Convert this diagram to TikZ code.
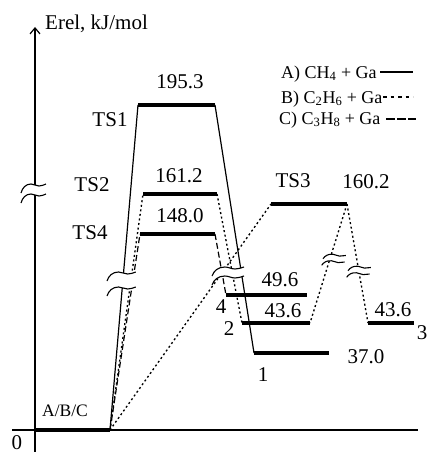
\documentclass[tikz,border=0pt]{standalone}
\usepackage{fontspec}
\setmainfont{Liberation Serif}
\usetikzlibrary{arrows.meta}
\tikzset{
  lvl/.style={line width=3.6pt},
  conn/.style={line width=1.2pt},
  solidc/.style={conn},
  dotc/.style={conn, line width=1.35pt, dash pattern=on 2pt off 2.6pt},
  dashc/.style={conn, dash pattern=on 6pt off 3pt},
  axis/.style={line width=1.2pt},
  lbl/.style={font=\fontsize{21}{25}\selectfont, inner sep=0pt, anchor=base},
  smlbl/.style={font=\fontsize{17.5}{21}\selectfont, inner sep=0pt, anchor=base},
  leg/.style={font=\fontsize{18}{22}\selectfont, inner sep=0pt, anchor=base west},
}
\newcommand\brkmark[4][]{%
  \begin{scope}[shift={(#2,#3)},#1]
    \fill[white] (0,8) to[out=75,in=180] (10,-1) to[out=0,in=180] (18,1) to[out=0,in=200] (25,-1)
      -- (25,{#4-1}) to[out=200,in=0] (18,{#4+1}) to[out=180,in=0] (10,{#4-1}) to[out=180,in=75] (0,{#4+8}) -- cycle;
    \draw[line width=1.1pt] (0,8) to[out=75,in=180] (10,-1) to[out=0,in=180] (18,1) to[out=0,in=200] (25,-1);
    \draw[line width=1.1pt] (0,{#4+8}) to[out=75,in=180] (10,{#4-1}) to[out=0,in=180] (18,{#4+1}) to[out=0,in=200] (25,{#4-1});
  \end{scope}}
\begin{document}
\begin{tikzpicture}[x=1pt,y=-1pt]
\useasboundingbox (0,0) rectangle (428,452);
% axes
\coordinate (ybot) at (35,456);
\coordinate (ytop) at (35,27);
\coordinate (xl) at (12,430);
\coordinate (xr) at (418,430);
\draw[axis] (xl) -- (xr);
\draw[axis, -{Straight Barb[length=6pt,width=10pt]}] (ybot) -- (ytop);
% level end points
\coordinate (abcL) at (35,430);   \coordinate (abcR) at (110,430);
\coordinate (ts1L) at (138,105);  \coordinate (ts1R) at (215,105);
\coordinate (ts2L) at (143,194);  \coordinate (ts2R) at (217,194);
\coordinate (ts4L) at (140,234);  \coordinate (ts4R) at (215,234);
\coordinate (ts3L) at (271,204);  \coordinate (ts3R) at (347,204);
\coordinate (l4L) at (226,295);   \coordinate (l4R) at (307,295);
\coordinate (l2L) at (242,323);   \coordinate (l2R) at (310,323);
\coordinate (l3L) at (368,323);   \coordinate (l3R) at (414,323);
\coordinate (l1L) at (254,353);   \coordinate (l1R) at (329,353);
% connectors
\draw[solidc] (abcR) -- (ts1L);
\draw[solidc] (ts1R) -- (l1L);
\draw[dashc] (abcR) -- (ts4L);
\draw[dashc] (ts4R) -- (l4L);
\draw[dotc] (abcR) -- (ts2L);
\draw[dotc] (ts2R) -- (l2L);
\draw[dotc] (abcR) -- (ts3L);
\draw[dotc] (ts3R) -- (l2R);
\draw[dotc] (ts3R) -- (l3L);
% breaks
\brkmark{21}{185}{10}
\brkmark[xscale=1.15]{107}{273}{15}
\brkmark[xscale=1.28]{212}{268}{9}
\brkmark[xscale=0.88,yscale=0.6,rotate=-8]{324}{254}{11}
\brkmark[xscale=0.88,yscale=0.6,rotate=-8]{349}{266}{11}
% levels
\draw[lvl] (abcL) -- (abcR);
\draw[lvl] (ts1L) -- (ts1R);
\draw[lvl] (ts2L) -- (ts2R);
\draw[lvl] (ts4L) -- (ts4R);
\draw[lvl] (ts3L) -- (ts3R);
\draw[lvl] (l4L) -- (l4R);
\draw[lvl] (l2L) -- (l2R);
\draw[lvl] (l3L) -- (l3R);
\draw[lvl] (l1L) -- (l1R);
% labels
\node[lbl, anchor=base west] (ylab) at (45,30) {Erel, kJ/mol};
\node[lbl] (zero) at (17,449) {0};
\node[smlbl] (abclab) at (65,416) {A/B/C};
\node[lbl] (e1) at (180,88) {195.3};
\node[lbl] (n1) at (110,126) {TS1};
\node[lbl] (e2) at (179,182) {161.2};
\node[lbl] (n2) at (92,191) {TS2};
\node[lbl] (e4) at (180,222) {148.0};
\node[lbl] (n4) at (90,239) {TS4};
\node[lbl] (n3) at (293,187) {TS3};
\node[lbl] (e3) at (366,188) {160.2};
\node[lbl] (el4) at (280,286) {49.6};
\node[lbl] (nl4) at (221,313) {4};
\node[lbl] (el2) at (283,317) {43.6};
\node[lbl] (nl2) at (229,335) {2};
\node[lbl] (el3) at (393,316) {43.6};
\node[lbl] (nl3) at (422,339) {3};
\node[lbl] (el1) at (366,363) {37.0};
\node[lbl] (nl1) at (263,381) {1};
% legend
\node[leg] (legA) at (281,78) {A) CH\textsubscript{4} + Ga};
\node[leg] (legB) at (281,103) {B) C\textsubscript{2}H\textsubscript{6} + Ga};
\node[leg] (legC) at (279,124) {C) C\textsubscript{3}H\textsubscript{8} + Ga};
\coordinate (laL) at (380,72);  \coordinate (laR) at (413,72);
\coordinate (lbL) at (383,97);  \coordinate (lbR) at (413,97);
\coordinate (lcL) at (386,119); \coordinate (lcR) at (416,119);
\draw[conn] (laL) -- (laR);
\draw[conn, dash pattern=on 3.5pt off 4pt] (lbL) -- (lbR);
\draw[conn, dash pattern=on 9pt off 2pt] (lcL) -- (lcR);
\end{tikzpicture}
\end{document}
